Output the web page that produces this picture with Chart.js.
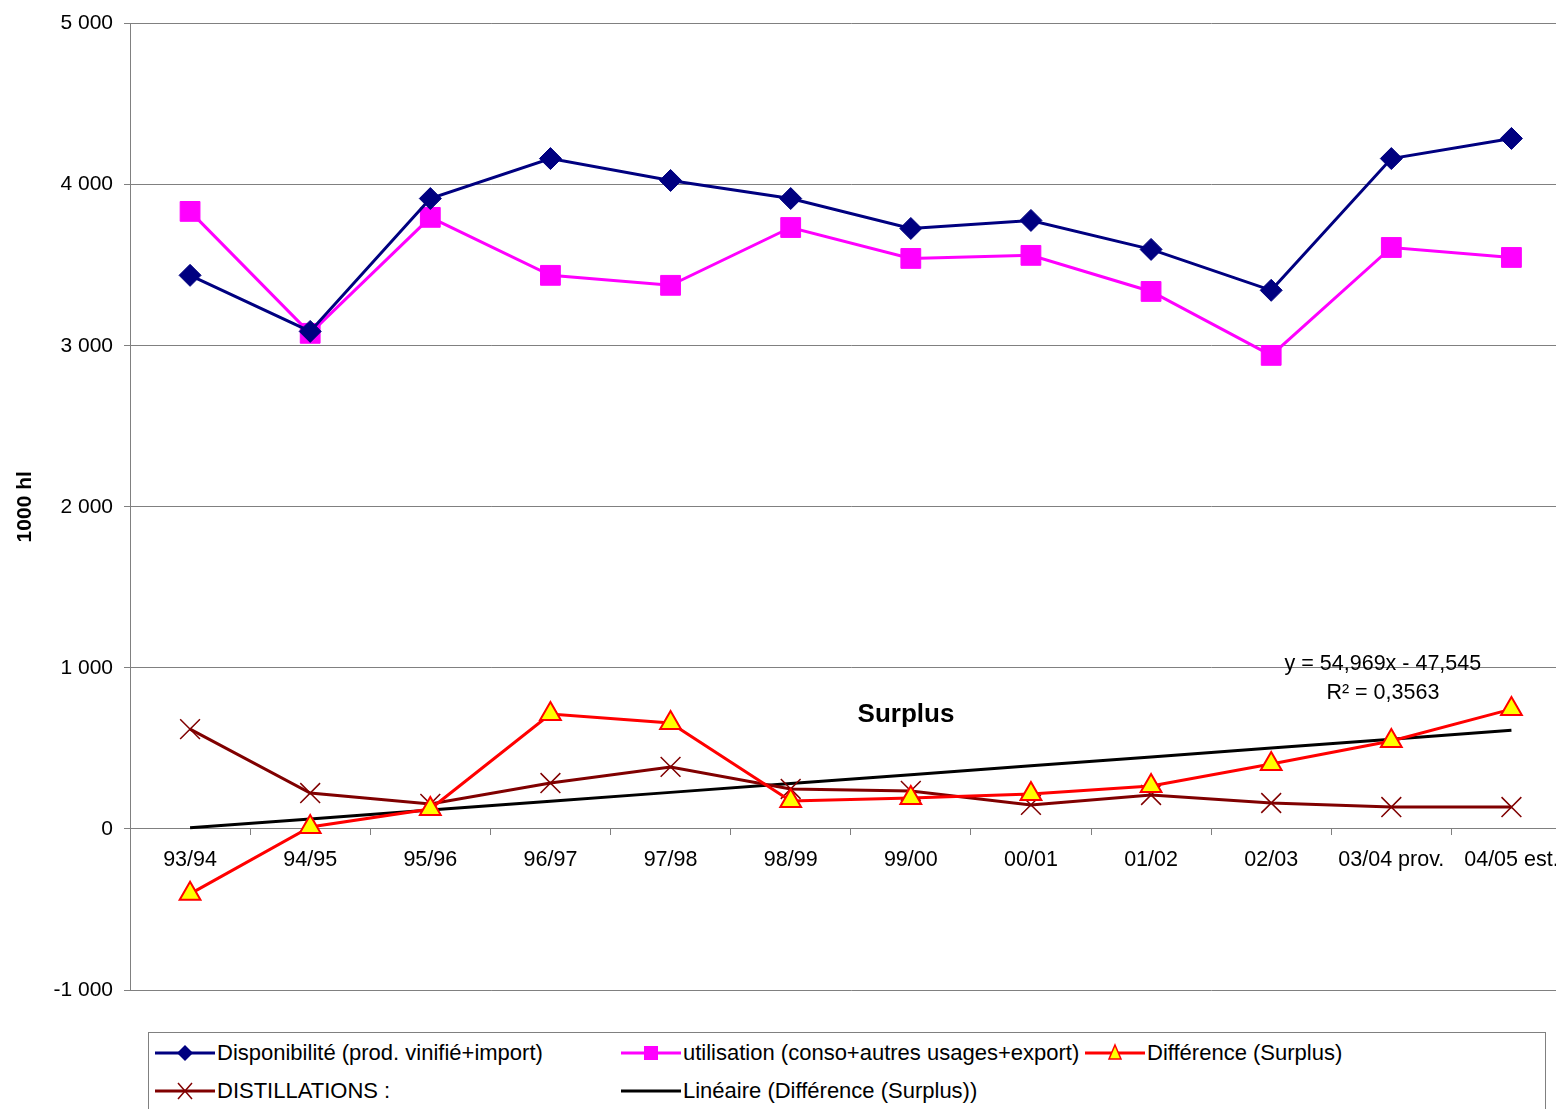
<!DOCTYPE html>
<html>
<head>
<meta charset="utf-8">
<script src="https://cdn.jsdelivr.net/npm/chart.js@4/dist/chart.umd.min.js"></script>
<style>
  html, body { margin: 0; padding: 0; background: #fff; overflow: hidden; }
  #wrap { position: relative; width: 1587px; height: 1030px; }
  #legend {
    position: absolute; left: 148px; top: 1032px; width: 1398px; height: 100px;
    border: 1px solid #808080; box-sizing: border-box;
    font-family: "Liberation Sans", Arial, sans-serif; font-size: 22px; color: #000;
  }
  .item { position: absolute; display: flex; align-items: center; white-space: nowrap; }
  .item svg { margin-right: 2px; }
</style>
</head>
<body>
<div id="wrap"><canvas id="surplusChart" width="1587" height="1030"></canvas></div>
<div id="legend"></div>
<script>
// campaigns (1000 hl)
const campagnes = ["93/94", "94/95", "95/96", "96/97", "97/98", "98/99", "99/00", "00/01", "01/02", "02/03", "03/04 prov.", "04/05 est."];
const disponibilite = [3437, 3089, 3914, 4162, 4026, 3914, 3728, 3778, 3598, 3344, 4162, 4287];
const utilisation = [3834, 3077, 3797, 3437, 3375, 3734, 3542, 3561, 3337, 2940, 3610, 3548];
const difference = [-403, 12, 124, 713, 658, 174, 192, 217, 267, 403, 546, 744];
const distillations = [620, 223, 155, 285, 385, 248, 236, 149, 211, 161, 136, 136];
const lineaire = [7, 62, 117, 172, 227, 282, 337, 392, 447, 502, 557, 612];
const yTicks = [-1000, 0, 1000, 2000, 3000, 4000, 5000];

const FONT = '"Liberation Sans", Arial, sans-serif';

function fmt(v) {
  return String(v).replace(/\B(?=(\d{3})+(?!\d))/g, " ");
}

// text notes placed through the scales
const notesPlugin = {
  id: "notes",
  afterDatasetsDraw(chart) {
    const { ctx, scales: { x, y } } = chart;
    ctx.save();
    ctx.fillStyle = "#000";
    ctx.textAlign = "center";
    ctx.textBaseline = "middle";
    ctx.font = "bold 26px " + FONT;
    ctx.fillText("Surplus", x.getPixelForValue(5.96), y.getPixelForValue(707));
    ctx.font = "21.5px " + FONT;
    ctx.fillText("y = 54,969x - 47,545", x.getPixelForValue(9.93), y.getPixelForValue(1023));
    ctx.fillText("R\u00B2 = 0,3563", x.getPixelForValue(9.93), y.getPixelForValue(844));
    ctx.restore();
  }
};

const series = [
  { label: "Disponibilité (prod. vinifié+import)", data: disponibilite, color: "#000080", fill: "#000080", style: "rectRot", radius: 11, order: 2 },
  { label: "utilisation (conso+autres usages+export)", data: utilisation, color: "#FF00FF", fill: "#FF00FF", style: "rect", radius: 14, order: 3 },
  { label: "Différence (Surplus)", data: difference, color: "#FF0000", fill: "#FFFF00", style: "triangle", radius: 12, order: 1 },
  { label: "DISTILLATIONS :", data: distillations, color: "#800000", fill: "#800000", style: "crossRot", radius: 14, order: 4 },
  { label: "Linéaire (Différence (Surplus))", data: lineaire, color: "#000000", fill: "#000000", style: false, radius: 0, order: 5 }
];

new Chart(document.getElementById("surplusChart"), {
  type: "line",
  data: {
    labels: campagnes,
    datasets: series.map((s) => ({
      label: s.label,
      data: s.data,
      borderColor: s.color,
      backgroundColor: s.fill,
      borderWidth: 3,
      pointStyle: s.style,
      pointRadius: s.radius,
      pointBorderColor: s.style === "triangle" ? "#FF0000" : s.color,
      pointBackgroundColor: s.fill,
      pointBorderWidth: s.style === "crossRot" ? 1.5 : (s.style === "triangle" ? 2 : 1),
      tension: 0,
      order: s.order
    }))
  },
  options: {
    responsive: false,
    animation: false,
    layout: { padding: { top: 22, right: 0, bottom: 40, left: 0 } },
    plugins: {
      legend: { display: false },
      tooltip: { enabled: false }
    },
    scales: {
      x: {
        position: { y: 0 },
        offset: true,
        border: { color: "#808080", width: 1 },
        grid: { offset: true, drawOnChartArea: false, drawTicks: true, tickLength: 6, color: "#808080" },
        ticks: { color: "#000", font: { family: FONT, size: 21.5 }, padding: 12, maxRotation: 0, autoSkip: false }
      },
      y: {
        min: -1000,
        max: 5000,
        afterFit: (s) => { s.width = 130; },
        afterBuildTicks: (s) => { s.ticks = yTicks.map((v) => ({ value: v })); },
        border: { color: "#808080", width: 1 },
        grid: { color: "#808080", lineWidth: 1, tickLength: 6 },
        ticks: { color: "#000", font: { family: FONT, size: 21 }, padding: 11, callback: (v) => fmt(v) },
        title: { display: true, text: "1000 hl", color: "#000", font: { family: FONT, size: 21, weight: "bold" }, padding: { top: 13, bottom: 0 } }
      }
    }
  },
  plugins: [notesPlugin]
});

// legend in the framed box below the chart
function sample(s) {
  let mark = "";
  const cx = 30, cy = 10;
  if (s.style === "rectRot") mark = `<polygon points="${cx},${cy - 8} ${cx + 8},${cy} ${cx},${cy + 8} ${cx - 8},${cy}" fill="${s.fill}"/>`;
  else if (s.style === "rect") mark = `<rect x="${cx - 7}" y="${cy - 7}" width="14" height="14" fill="${s.fill}"/>`;
  else if (s.style === "triangle") mark = `<polygon points="${cx},${cy - 8} ${cx + 6},${cy + 6} ${cx - 6},${cy + 6}" fill="${s.fill}" stroke="#FF0000" stroke-width="1.5"/>`;
  else if (s.style === "crossRot") mark = `<path d="M${cx - 7} ${cy - 8} L${cx + 7} ${cy + 8} M${cx + 7} ${cy - 8} L${cx - 7} ${cy + 8}" stroke="${s.color}" stroke-width="1.5"/>`;
  return `<svg width="60" height="20"><line x1="0" y1="${cy}" x2="60" y2="${cy}" stroke="${s.color}" stroke-width="3"/>${mark}</svg>`;
}
const legendPos = [[6, 7], [472, 7], [936, 7], [6, 45], [472, 45]];
const legend = document.getElementById("legend");
series.forEach((s, i) => {
  const d = document.createElement("div");
  d.className = "item";
  d.style.left = legendPos[i][0] + "px";
  d.style.top = legendPos[i][1] + "px";
  d.innerHTML = sample(s) + "<span>" + s.label + "</span>";
  legend.appendChild(d);
});
</script>
</body>
</html>
